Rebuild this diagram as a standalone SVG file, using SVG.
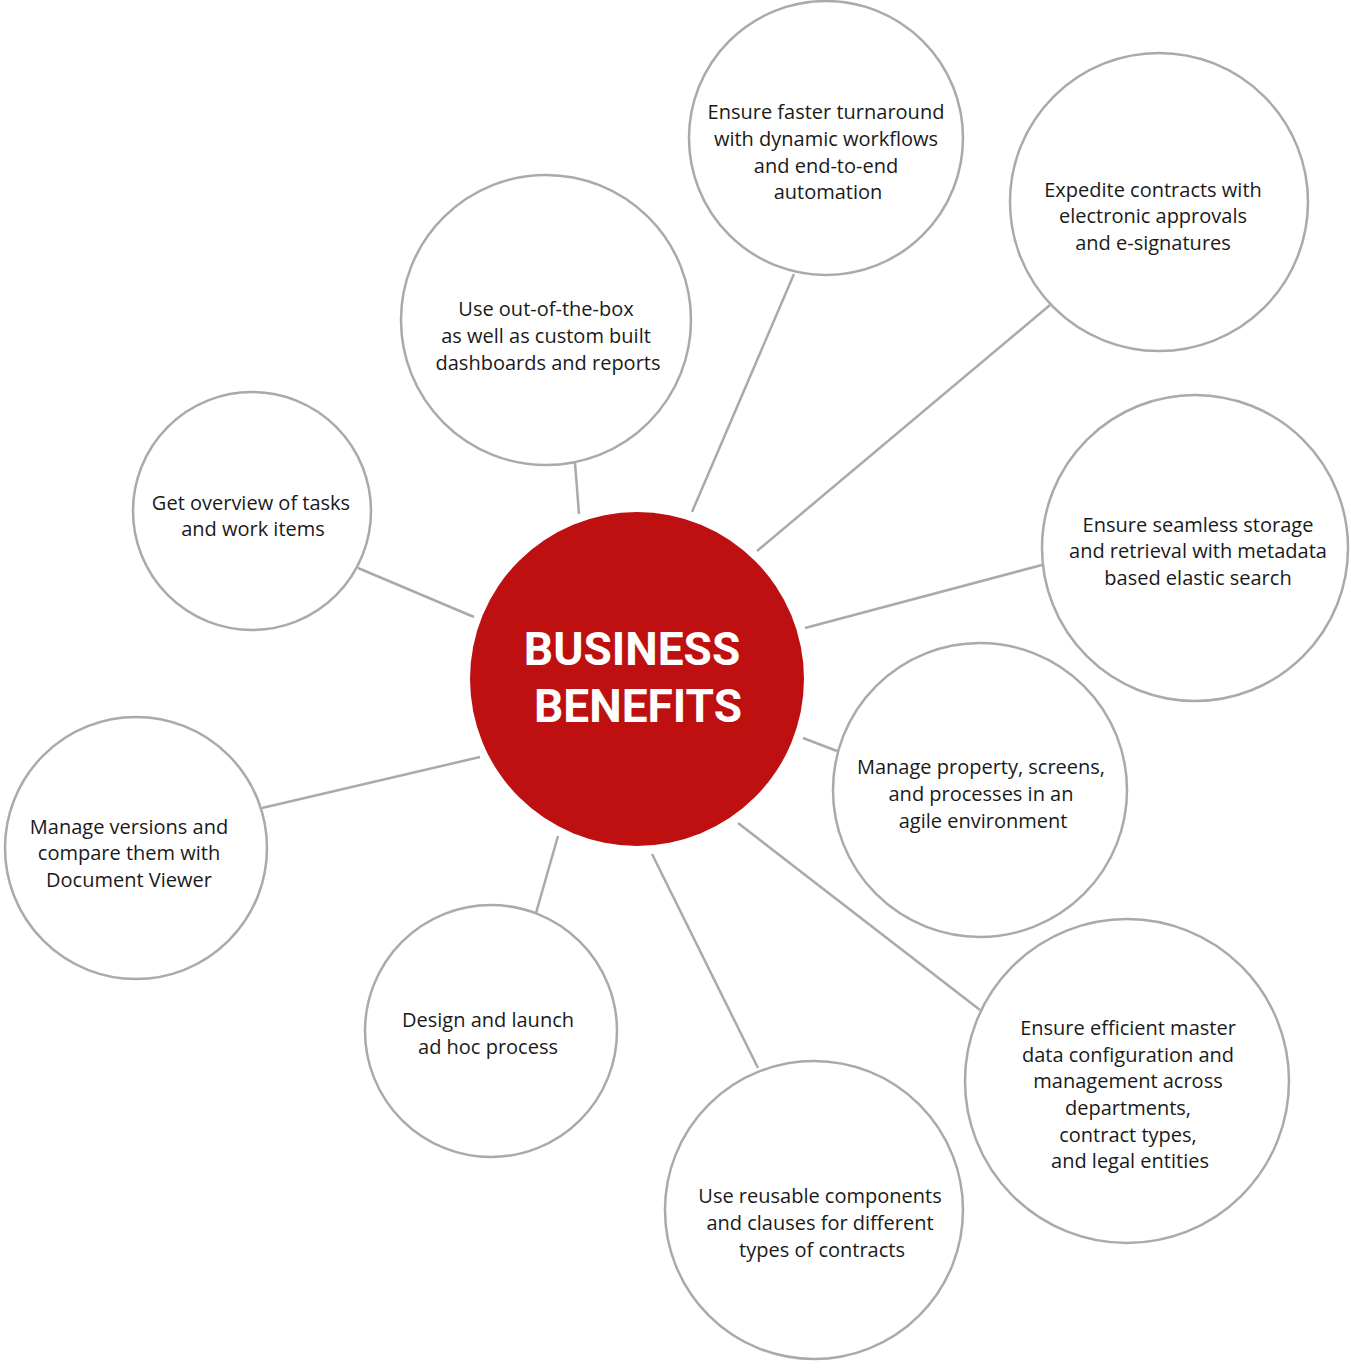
<svg xmlns="http://www.w3.org/2000/svg" width="1351" height="1371" viewBox="0 0 1351 1371">
<style>
.n{fill:#fff;stroke:#aaaaaa;stroke-width:2.5}
.c line{stroke:#aaaaaa;stroke-width:2.5}
.t{font-family:"Open Sans","Noto Sans",sans-serif;font-size:20px;fill:#1a1a1a;text-anchor:middle}
.h{font-family:Roboto,"Liberation Sans",sans-serif;font-weight:bold;font-size:46px;fill:#fff;text-anchor:middle}
</style>
<rect width="1351" height="1371" fill="#fff"/>
<g class="c" id="connectors">
<line x1="692" y1="512" x2="794" y2="274"/>
<line x1="757" y1="551" x2="1050" y2="305"/>
<line x1="579" y1="514" x2="575" y2="463"/>
<line x1="474" y1="617" x2="358" y2="568"/>
<line x1="805" y1="628" x2="1042" y2="565"/>
<line x1="803" y1="738" x2="837" y2="751"/>
<line x1="480" y1="757" x2="262" y2="808"/>
<line x1="558" y1="836" x2="536" y2="913"/>
<line x1="652" y1="854" x2="758" y2="1068"/>
<line x1="738" y1="823" x2="980" y2="1010"/>
</g>
<g id="center">
<circle cx="637" cy="679" r="167" fill="#be1010"/>
<text class="h" x="632" y="665">BUSINESS</text>
<text class="h" x="638" y="722">BENEFITS</text>
</g>
<g id="n1">
<circle class="n" cx="826" cy="138" r="137"/>
<text class="t" x="826" y="119">Ensure faster turnaround</text>
<text class="t" x="826" y="146">with dynamic workflows</text>
<text class="t" x="826" y="173">and end-to-end</text>
<text class="t" x="828" y="199">automation</text>
</g>
<g id="n2">
<circle class="n" cx="1159" cy="202" r="149"/>
<text class="t" x="1153" y="197">Expedite contracts with</text>
<text class="t" x="1153" y="223">electronic approvals</text>
<text class="t" x="1153" y="250">and e-signatures</text>
</g>
<g id="n3">
<circle class="n" cx="546" cy="320" r="145"/>
<text class="t" x="546" y="316">Use out-of-the-box</text>
<text class="t" x="546" y="343">as well as custom built</text>
<text class="t" x="548" y="370">dashboards and reports</text>
</g>
<g id="n4">
<circle class="n" cx="252" cy="511" r="119"/>
<text class="t" x="251" y="510">Get overview of tasks</text>
<text class="t" x="253" y="536">and work items</text>
</g>
<g id="n5">
<circle class="n" cx="1195" cy="548" r="153"/>
<text class="t" x="1198" y="532">Ensure seamless storage</text>
<text class="t" x="1198" y="558">and retrieval with metadata</text>
<text class="t" x="1198" y="585">based elastic search</text>
</g>
<g id="n6">
<circle class="n" cx="980" cy="790" r="147"/>
<text class="t" x="981" y="774">Manage property, screens,</text>
<text class="t" x="981" y="801">and processes in an</text>
<text class="t" x="983" y="828">agile environment</text>
</g>
<g id="n7">
<circle class="n" cx="136" cy="848" r="131"/>
<text class="t" x="129" y="834">Manage versions and</text>
<text class="t" x="129" y="860">compare them with</text>
<text class="t" x="129" y="887">Document Viewer</text>
</g>
<g id="n8">
<circle class="n" cx="491" cy="1031" r="126"/>
<text class="t" x="488" y="1027">Design and launch</text>
<text class="t" x="488" y="1054">ad hoc process</text>
</g>
<g id="n9">
<circle class="n" cx="814" cy="1210" r="149"/>
<text class="t" x="820" y="1203">Use reusable components</text>
<text class="t" x="820" y="1230">and clauses for different</text>
<text class="t" x="822" y="1257">types of contracts</text>
</g>
<g id="n10">
<circle class="n" cx="1127" cy="1081" r="162"/>
<text class="t" x="1128" y="1035">Ensure efficient master</text>
<text class="t" x="1128" y="1062">data configuration and</text>
<text class="t" x="1128" y="1088">management across</text>
<text class="t" x="1128" y="1115">departments,</text>
<text class="t" x="1128" y="1142">contract types,</text>
<text class="t" x="1130" y="1168">and legal entities</text>
</g>
</svg>
